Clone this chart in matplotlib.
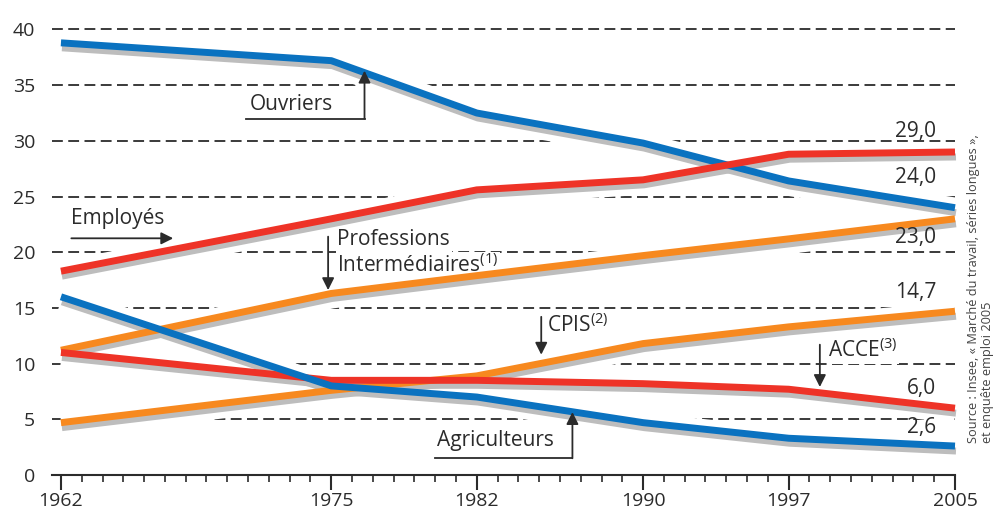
import matplotlib
matplotlib.use("Agg")
import matplotlib.pyplot as plt
import matplotlib.transforms as mtransforms

plt.rcParams['font.family'] = ['Open Sans', 'DejaVu Sans']
plt.rcParams['mathtext.default'] = 'regular'

# data (share of employment, %)
years = [1962, 1975, 1982, 1990, 1997, 2005]
ouvriers = [38.8, 37.2, 32.5, 29.8, 26.4, 24.0]
employes = [18.3, 23.0, 25.6, 26.5, 28.8, 29.0]
prof_inter = [11.2, 16.3, 17.9, 19.7, 21.2, 23.0]
cpis = [4.7, 7.6, 8.9, 11.8, 13.3, 14.7]
acce = [11.0, 8.5, 8.5, 8.2, 7.7, 6.0]
agriculteurs = [16.0, 8.0, 7.0, 4.7, 3.3, 2.6]

end_labels = ["29,0", "24,0", "23,0", "14,7", "6,0", "2,6"]
end_label_y = [30.8, 26.7, 21.35, 16.4, 7.8, 4.3]

xticks = [1962, 1975, 1982, 1990, 1997, 2005]
yticks = [0, 5, 10, 15, 20, 25, 30, 35, 40]

BLUE = '#0a72c0'
RED = '#ee3327'
ORANGE = '#f7891f'
SHADOW = '#bdbdbd'
INK = '#2b2b2b'

series = [
    (ouvriers, BLUE),
    (employes, RED),
    (prof_inter, ORANGE),
    (cpis, ORANGE),
    (acce, RED),
    (agriculteurs, BLUE),
]

FS = 15  # label size

fig = plt.figure(figsize=(9.98, 5.15), dpi=100)
ax = fig.add_axes([52 / 998, 1 - 475 / 515, (955 - 52) / 998, (475 - 20) / 515])
ax.set_xlim(1961.57, 2005)
ax.set_ylim(0, 40.85)

# dashed grid
for v in yticks[1:]:
    ax.axhline(v, color=INK, lw=1.3, ls=(0, (6, 3)), zorder=1)

shadow_tr = mtransforms.offset_copy(ax.transData, fig=fig, x=1, y=-5, units='dots')
halo_tr = mtransforms.offset_copy(ax.transData, fig=fig, x=0.5, y=-2.5, units='dots')

for vals, col in series:
    ax.plot(years, vals, color='white', lw=18, transform=halo_tr,
            solid_capstyle='butt', solid_joinstyle='round', zorder=2)
for vals, col in series:
    ax.plot(years, vals, color=SHADOW, lw=5, transform=shadow_tr,
            solid_capstyle='butt', zorder=3, clip_on=False)
for vals, col in series:
    ax.plot(years, vals, color=col, lw=5, solid_capstyle='butt',
            zorder=4, clip_on=False)

# axes styling
for s in ['left', 'right', 'top']:
    ax.spines[s].set_visible(False)
ax.spines['bottom'].set_linewidth(1.5)
ax.spines['bottom'].set_color(INK)
ax.set_yticks(yticks)
ax.set_yticklabels([str(v) for v in yticks])
ax.tick_params(axis='y', length=0, pad=12, labelsize=14, labelcolor=INK)
ax.set_xticks(xticks)
ax.set_xticks(list(range(1962, 2006)), minor=True)
ax.tick_params(axis='x', which='major', length=11, width=1.5, color=INK,
               labelsize=14, labelcolor=INK, pad=1)
ax.tick_params(axis='x', which='minor', length=5, width=1.2, color=INK)

# end values
for txt, yv in zip(end_labels, end_label_y):
    ax.text(2004.1, yv, txt, ha='right', va='center', fontsize=FS, color=INK, zorder=5)

tbox = dict(facecolor='white', edgecolor='none', pad=1)
arrow = dict(arrowstyle='-|>', mutation_scale=18, lw=1.3, color=INK, shrinkA=0, shrinkB=0)

# Ouvriers
ax.text(1971.1, 33.3, 'Ouvriers', ha='left', va='center', fontsize=FS, color=INK, zorder=5)
ax.plot([1970.9, 1976.6], [32.0, 32.0], color=INK, lw=1.3, zorder=5)
ax.annotate('', xy=(1976.6, 36.3), xytext=(1976.6, 32.0), arrowprops=arrow, zorder=5)

# Employés
ax.text(1962.5, 23.0, 'Employés', ha='left', va='center', fontsize=FS, color=INK, zorder=5)
ax.annotate('', xy=(1967.4, 21.25), xytext=(1962.5, 21.25), arrowprops=arrow, zorder=5)

# Professions intermédiaires
ax.text(1975.3, 21.1, 'Professions', ha='left', va='center', fontsize=FS,
        color=INK, bbox=tbox, zorder=2.5)
ax.text(1975.3, 18.8, 'Intermédiaires$^{(1)}$', ha='left', va='center', fontsize=FS,
        color=INK, bbox=tbox, zorder=2.5)
ax.annotate('', xy=(1974.85, 16.6), xytext=(1974.85, 21.4), arrowprops=arrow, zorder=5)

# CPIS
ax.text(1985.4, 13.45, 'CPIS$^{(2)}$', ha='left', va='center', fontsize=FS,
        color=INK, bbox=tbox, zorder=2.5)
ax.annotate('', xy=(1985.1, 10.8), xytext=(1985.1, 14.2), arrowprops=arrow, zorder=5)

# ACCE
ax.text(1998.9, 11.2, 'ACCE$^{(3)}$', ha='left', va='center', fontsize=FS,
        color=INK, bbox=tbox, zorder=2.5)
ax.annotate('', xy=(1998.5, 7.9), xytext=(1998.5, 11.7), arrowprops=arrow, zorder=5)

# Agriculteurs
ax.text(1980.1, 3.1, 'Agriculteurs', ha='left', va='center', fontsize=FS, color=INK, zorder=5)
ax.plot([1980.0, 1986.6], [1.5, 1.5], color=INK, lw=1.3, zorder=5)
ax.annotate('', xy=(1986.6, 5.65), xytext=(1986.6, 1.5), arrowprops=arrow, zorder=5)

# source
fig.text(973 / 998, 1 - 443 / 515, 'Source : Insee, « Marché du travail, séries longues »,',
         rotation=90, ha='center', va='bottom', fontsize=9.2, color='#444444')
fig.text(988 / 998, 1 - 443 / 515, 'et enquête emploi 2005',
         rotation=90, ha='center', va='bottom', fontsize=9.2, color='#444444')

fig.savefig('out.png', dpi=100)
